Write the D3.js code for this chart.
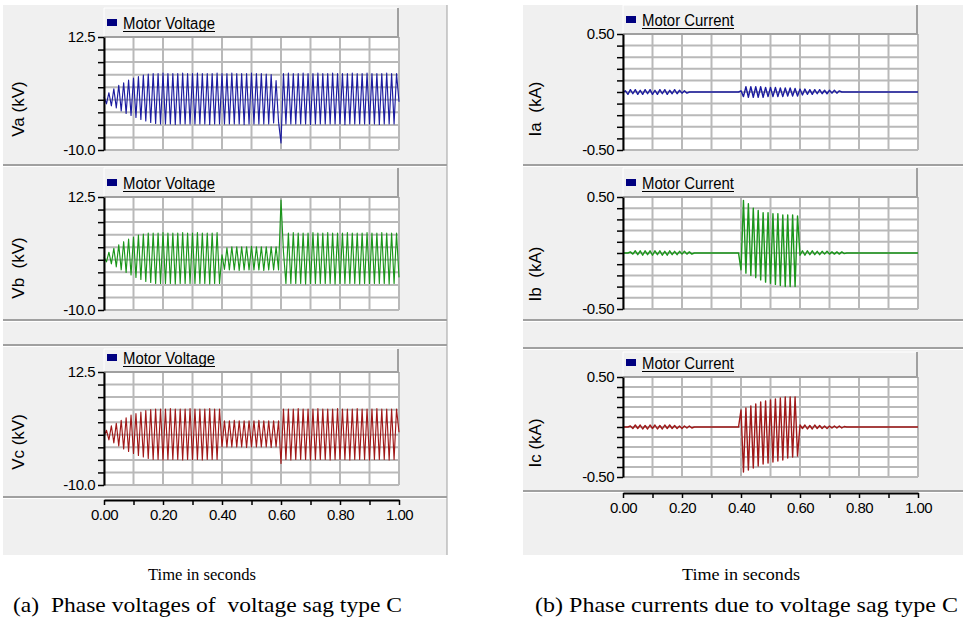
<!DOCTYPE html>
<html><head><meta charset="utf-8">
<script src="https://cdn.jsdelivr.net/npm/d3@7/dist/d3.min.js"></script>
<style>
html,body{margin:0;padding:0;background:#fff;}
</style></head><body>
<svg id="c" width="963" height="622"></svg>
<script>
// ---------- data ----------
const timeTicks = [0, 0.1, 0.2, 0.3, 0.4, 0.5, 0.6, 0.7, 0.8, 0.9, 1.0];
const timeLabels = ["0.00", "", "0.20", "", "0.40", "", "0.60", "", "0.80", "", "1.00"];
const voltTicks = [12.5, 10, 7.5, 5, 2.5, 0, -2.5, -5, -7.5, -10];
const voltLabels = ["12.5", "", "", "", "", "", "", "", "", "-10.0"];
const currTicks = [0.5, 0.4, 0.3, 0.2, 0.1, 0, -0.1, -0.2, -0.3, -0.4, -0.5];
const currLabels = ["0.50", "", "", "", "", "", "", "", "", "", "-0.50"];
const sampleCount = 120; // samples per second (one per half-cycle)

const Va = [
  0.6,-0.8,1.4,-1.2,2.2,-1.6,2.9,-2.2,3.4,-2.7,
  3.9,-3.1,4.3,-3.5,4.6,-3.9,4.9,-4.2,5.1,-4.5,
  5.2,-4.7,5.2,-4.8,5.3,-4.8,5.2,-4.8,5.2,-4.9,
  5.2,-4.8,5.3,-4.8,5.2,-4.8,5.2,-4.8,5.3,-4.8,
  5.2,-4.8,5.2,-4.9,5.2,-4.8,5.3,-4.8,5.2,-4.8,
  5.2,-4.8,5.3,-4.8,5.2,-4.8,5.2,-4.9,5.2,-4.8,
  5.3,-4.8,5.2,-4.8,5.2,-4.8,5.1,-4.8,5.0,-4.6,
  3.8,-4.4,-8.6,5.2,-4.8,5.3,-4.8,5.2,-4.8,5.2,
  -4.8,5.3,-4.8,5.2,-4.9,5.2,-4.8,5.3,-4.8,5.2,
  -4.8,5.2,-4.8,5.3,-4.8,5.2,-4.8,5.2,-4.9,5.2,
  -4.8,5.3,-4.8,5.2,-4.8,5.2,-4.8,5.3,-4.8,5.2,
  -4.8,5.2,-4.9,5.2,-4.8,5.3,-4.8,5.2,-4.8,5.2,
  -0.4];
const Vb = [
  0.5,-0.4,1.5,-0.8,2.3,-1.4,3.0,-2.0,3.6,-2.5,
  4.1,-3.0,4.5,-3.5,4.9,-3.9,5.1,-4.3,5.3,-4.5,
  5.3,-4.7,5.3,-4.7,5.4,-4.7,5.3,-4.7,5.3,-4.8,
  5.3,-4.7,5.4,-4.7,5.3,-4.7,5.3,-4.7,5.4,-4.7,
  5.3,-4.7,5.3,-4.8,5.3,-4.7,5.4,-4.7,1.0,-1.9,
  2.4,-2.0,2.6,-2.0,2.6,-2.1,2.6,-2.0,2.6,-2.0,
  2.7,-2.0,2.6,-2.0,2.6,-2.1,2.6,-2.0,2.6,-2.0,
  2.6,-2.0,11.9,1.6,-4.7,5.3,-4.7,5.4,-4.7,5.3,
  -4.7,5.3,-4.8,5.3,-4.7,5.4,-4.7,5.3,-4.7,5.3,
  -4.7,5.4,-4.7,5.3,-4.8,5.3,-4.7,5.3,-4.7,5.4,
  -4.7,5.3,-4.7,5.3,-4.8,5.3,-4.7,5.4,-4.7,5.3,
  -4.7,5.3,-4.7,5.4,-4.7,5.3,-4.8,5.3,-4.7,5.3,
  -3.5];
const Vc = [
  -0.3,0.9,-1.0,1.8,-1.6,2.3,-2.2,2.9,-2.8,3.4,
  -3.3,3.9,-3.7,4.2,-4.1,4.5,-4.4,4.8,-4.7,5.0,
  -4.9,5.1,-4.9,5.1,-5.0,5.1,-4.9,5.2,-4.9,5.1,
  -4.9,5.1,-5.0,5.1,-4.9,5.2,-4.9,5.1,-4.9,5.1,
  -5.0,5.1,-4.9,5.2,-4.9,5.1,-4.9,5.1,-2.4,2.8,
  -2.4,2.8,-2.4,2.9,-2.4,2.8,-2.4,2.8,-2.5,2.8,
  -2.4,2.8,-2.4,2.9,-2.4,2.8,-2.4,2.8,-2.5,2.8,
  -2.4,2.8,-5.7,5.1,-4.9,5.1,-5.0,5.1,-4.9,5.2,
  -4.9,5.1,-4.9,5.1,-5.0,5.1,-4.9,5.2,-4.9,5.1,
  -4.9,5.1,-5.0,5.1,-4.9,5.2,-4.9,5.1,-4.9,5.1,
  -5.0,5.1,-4.9,5.2,-4.9,5.1,-4.9,5.1,-5.0,5.1,
  -4.9,5.2,-4.9,5.1,-4.9,5.1,-5.0,5.1,-4.9,5.1,
  0.5];
const Ia = [
  0,0.01,-0.02,0.02,-0.015,0.02,-0.02,0.015,-0.02,0.02,
  -0.015,0.02,-0.02,0.015,-0.02,0.02,-0.015,0.02,-0.02,0.015,
  -0.015,0.02,-0.015,0.015,-0.01,0.01,-0.01,0,0,0,
  0,0,0,0,0,0,0,0,0,0,
  0,0,0,0,0,0,0,0,0.01,-0.04,
  0.045,-0.045,0.045,-0.045,0.045,-0.045,0.045,-0.045,0.04,-0.04,
  0.04,-0.04,0.04,-0.04,0.035,-0.04,0.035,-0.035,0.035,-0.035,
  0.03,-0.035,0.025,-0.025,0.025,-0.02,0.02,-0.02,0.02,-0.015,
  0.02,-0.015,0.015,-0.015,0.015,-0.01,0.015,-0.01,0.01,0,
  0,0,0,0,0,0,0,0,0,0,
  0,0,0,0,0,0,0,0,0,0,
  0,0,0,0,0,0,0,0,0,0,
  0];
const Ib = [
  0,0,0,0.01,-0.01,0.02,-0.015,0.02,-0.02,0.02,
  -0.015,0.02,-0.02,0.02,-0.015,0.02,-0.02,0.015,-0.02,0.02,
  -0.015,0.015,-0.015,0.015,-0.01,0.015,-0.01,0.01,-0.01,0,
  0,0,0,0,0,0,0,0,0,0,
  0,0,0,0,0,0,0,0,-0.15,0.47,
  -0.18,0.44,-0.20,0.40,-0.22,0.38,-0.24,0.36,-0.26,0.36,
  -0.27,0.35,-0.28,0.35,-0.29,0.34,-0.30,0.34,-0.30,0.34,
  -0.30,0.33,-0.02,0.02,-0.02,0.02,-0.015,0.02,-0.015,0.015,
  -0.015,0.015,-0.01,0.015,-0.01,0.01,-0.01,0.01,-0.01,0.01,
  -0.005,0,0,0,0,0,0,0,0,0,
  0,0,0,0,0,0,0,0,0,0,
  0,0,0,0,0,0,0,0,0,0,
  0];
const Ic = [
  0,0,0,0.01,-0.015,0.02,-0.015,0.02,-0.02,0.015,
  -0.02,0.02,-0.015,0.02,-0.02,0.015,-0.02,0.02,-0.015,0.02,
  -0.015,0.015,-0.015,0.01,-0.015,0.01,-0.01,0.01,-0.01,0,
  0,0,0,0,0,0,0,0,0,0,
  0,0,0,0,0,0,0,0,0.17,-0.45,
  0.19,-0.43,0.21,-0.41,0.23,-0.39,0.25,-0.37,0.26,-0.36,
  0.27,-0.35,0.28,-0.34,0.29,-0.33,0.30,-0.31,0.30,-0.30,
  0.30,-0.29,0.02,-0.015,0.02,-0.02,0.015,-0.02,0.02,-0.015,
  0.015,-0.015,0.01,-0.015,0.01,-0.01,0.01,-0.01,0.01,-0.01,
  0.005,0,0,0,0,0,0,0,0,0,
  0,0,0,0,0,0,0,0,0,0,
  0,0,0,0,0,0,0,0,0,0,
  0];

const legendVoltage = "Motor Voltage";
const legendCurrent = "Motor Current";
const yTitles = ["Va (kV)", "Vb  (kV)", "Vc (kV)", "Ia  (kA)", "Ib  (kA)", "Ic (kA)"];
const xTitle = "Time in seconds";
const captionA = "(a)  Phase voltages of  voltage sag type C";
const captionB = "(b) Phase currents due to voltage sag type C";

// ---------- drawing ----------
const svg = d3.select("#c");
const BG = "#f0f0f0", SEP = "#a0a0a0", GRID = "#b9b9b9";
const sans = "'Liberation Sans', Arial, sans-serif";
const serif = "'Liberation Serif','Times New Roman',serif";

function figure(fx0, fx1, seps) {
  svg.append("rect").attr("x", fx0).attr("y", 5).attr("width", fx1 - fx0).attr("height", 550).attr("fill", BG);
  seps.forEach(s => {
    svg.append("line").attr("x1", fx0).attr("x2", fx1).attr("y1", s).attr("y2", s)
      .attr("stroke", SEP).attr("stroke-width", 2);
    svg.append("line").attr("x1", fx0).attr("x2", fx1).attr("y1", s + 1.5).attr("y2", s + 1.5)
      .attr("stroke", "#fff").attr("stroke-width", 1);
  });
}
figure(3, 447, [165, 320, 345, 497]);
svg.append("line").attr("x1", 447).attr("x2", 447).attr("y1", 5).attr("y2", 555).attr("stroke", SEP).attr("stroke-width", 1);
figure(523, 963, [165, 320, 348, 491]);

function panel(c) {
  const g = svg.append("g");
  const x = d3.scaleLinear().domain([0, 1]).range([c.x0, c.x1]);
  const y = d3.scaleLinear().domain([c.ticks[c.ticks.length - 1], c.ticks[0]]).range([c.bottom, c.top]);
  // legend box
  g.append("rect").attr("x", c.x0).attr("y", c.ly).attr("width", c.x1 - c.x0 - 1).attr("height", c.top - c.ly)
    .attr("fill", BG);
  g.append("line").attr("x1", c.x0).attr("x2", c.x1 - 1).attr("y1", c.ly).attr("y2", c.ly).attr("stroke", "#fff");
  g.append("line").attr("x1", c.x0).attr("x2", c.x0).attr("y1", c.ly).attr("y2", c.top).attr("stroke", "#fff");
  g.append("line").attr("x1", c.x1 - 1).attr("x2", c.x1 - 1).attr("y1", c.ly).attr("y2", c.top)
    .attr("stroke", SEP).attr("stroke-width", 2);
  g.append("rect").attr("x", c.x0 + 3).attr("y", c.top - 18).attr("width", 10).attr("height", 7).attr("fill", "#000080");
  g.append("text").attr("x", c.x0 + 19).attr("y", c.top - 8)
    .style("font-family", sans).style("font-size", "16px")
    .attr("textLength", 92).attr("lengthAdjust", "spacingAndGlyphs").attr("fill", "#000").text(c.legend);
  g.append("line").attr("x1", c.x0 + 19).attr("x2", c.x0 + 111).attr("y1", c.top - 5.5).attr("y2", c.top - 5.5)
    .attr("stroke", "#000").attr("stroke-width", 1);
  // plot area
  g.append("rect").attr("x", c.x0).attr("y", c.top).attr("width", c.x1 - c.x0).attr("height", c.bottom - c.top).attr("fill", "#fff");
  g.append("g").selectAll("line").data(timeTicks).join("line")
    .attr("x1", d => x(d)).attr("x2", d => x(d)).attr("y1", c.top).attr("y2", c.bottom)
    .attr("stroke", GRID).attr("stroke-width", 2);
  g.append("g").selectAll("line").data(c.ticks).join("line")
    .attr("x1", c.x0).attr("x2", c.x1).attr("y1", d => y(d)).attr("y2", d => y(d))
    .attr("stroke", GRID).attr("stroke-width", 2);
  g.append("line").attr("x1", c.x0).attr("x2", c.x1).attr("y1", c.top).attr("y2", c.top).attr("stroke", SEP).attr("stroke-width", 2);
  // trace
  const line = d3.line().x((d, i) => x(i / sampleCount)).y(d => y(d));
  g.append("path").datum(c.data).attr("d", line).attr("fill", "none")
    .attr("stroke", c.color).attr("stroke-width", c.sw).attr("stroke-linejoin", "round");
  // y axis
  const ax = g.append("g").attr("transform", `translate(${c.x0},0)`)
    .call(d3.axisLeft(y).tickValues(c.ticks).tickSize(6).tickSizeOuter(0).tickPadding(3)
      .tickFormat((d, i) => c.labels[i]));
  ax.select(".domain").attr("stroke", "#000").attr("stroke-width", 2);
  ax.selectAll(".tick line").attr("stroke", "#000").attr("stroke-width", 1.5);
  ax.selectAll("text").style("font-size", "15px").style("letter-spacing", "-0.5px")
    .style("font-family", sans).attr("fill", "#000");
  // y title
  svg.append("text").attr("transform", `translate(${c.tx},${c.ty}) rotate(-90)`)
    .attr("text-anchor", "middle").style("font-family", sans).style("font-size", "17px").attr("fill", "#000")
    .style("white-space", "pre").text(c.title);
}

function xAxis(x0, x1, ay) {
  const x = d3.scaleLinear().domain([0, 1]).range([x0, x1]);
  const ax = svg.append("g").attr("transform", `translate(0,${ay})`)
    .call(d3.axisBottom(x).tickValues(timeTicks).tickSize(5).tickSizeOuter(0).tickPadding(4)
      .tickFormat((d, i) => timeLabels[i]));
  ax.select(".domain").attr("stroke", "#000").attr("stroke-width", 2);
  ax.selectAll(".tick line").attr("stroke", "#000").attr("stroke-width", 1.5);
  ax.selectAll("text").style("font-size", "15px").style("letter-spacing", "-0.5px")
    .style("font-family", sans).attr("fill", "#000");
}

const L = {x0: 104, x1: 399, ticks: voltTicks, labels: voltLabels, legend: legendVoltage, sw: 1.15};
const R = {x0: 623, x1: 918, ticks: currTicks, labels: currLabels, legend: legendCurrent, sw: 1.4};
panel({...L, ly: 8,   top: 37,  bottom: 150, data: Va, color: "#1c1ca0", title: yTitles[0], tx: 24, ty: 109});
panel({...L, ly: 168, top: 197, bottom: 310, data: Vb, color: "#1a961a", title: yTitles[1], tx: 24, ty: 268});
panel({...L, ly: 349, top: 372, bottom: 485, data: Vc, color: "#a01818", title: yTitles[2], tx: 24, ty: 442});
panel({...R, ly: 5,   top: 34,  bottom: 150, data: Ia, color: "#1c1ca0", title: yTitles[3], tx: 541, ty: 109});
panel({...R, ly: 168, top: 197, bottom: 309, data: Ib, color: "#1a961a", title: yTitles[4], tx: 541, ty: 274});
panel({...R, ly: 352, top: 377, bottom: 477, data: Ic, color: "#a01818", title: yTitles[5], tx: 541, ty: 443});
xAxis(104, 399, 500);
xAxis(623, 918, 493);

function serifText(x, y, size, txt, len, anchor) {
  const t = svg.append("text").attr("x", x).attr("y", y).attr("text-anchor", anchor)
    .style("font-family", serif).style("font-size", size + "px").style("white-space", "pre")
    .attr("fill", "#000").text(txt);
  if (len) t.attr("textLength", len).attr("lengthAdjust", "spacingAndGlyphs");
}
serifText(202, 580, 16, xTitle, 108, "middle");
serifText(741, 580, 16, xTitle, 118, "middle");
serifText(13, 612, 21, captionA, 389, "start");
serifText(535, 612, 21, captionB, 423, "start");
</script>
</body></html>
